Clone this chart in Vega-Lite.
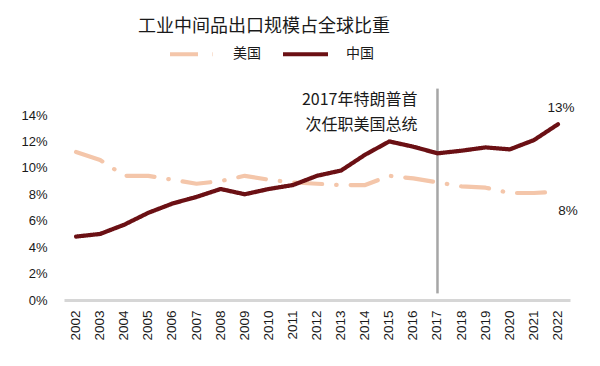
{
  "$schema": "https://vega.github.io/schema/vega-lite/v6.json",
  "width": 506,
  "height": 211.4,
  "autosize": {"type": "none"},
  "padding": {"left": 64, "top": 88.6, "right": 30, "bottom": 66},
  "background": "white",
  "title": {
    "text": "工业中间品出口规模占全球比重",
    "anchor": "start",
    "frame": "group",
    "dx": 74,
    "fontSize": 18,
    "fontWeight": "normal",
    "font": "Noto Sans CJK SC",
    "color": "#1a1a1a",
    "offset": -6
  },
  "config": {
    "view": {"stroke": null},
    "font": "Liberation Sans, Noto Sans CJK SC"
  },
  "data": {
    "values": [
      {"year": "2002", "series": "美国", "value": 11.2},
      {"year": "2003", "series": "美国", "value": 10.6},
      {"year": "2004", "series": "美国", "value": 9.4},
      {"year": "2005", "series": "美国", "value": 9.4},
      {"year": "2006", "series": "美国", "value": 9.1},
      {"year": "2007", "series": "美国", "value": 8.8},
      {"year": "2008", "series": "美国", "value": 9.0},
      {"year": "2009", "series": "美国", "value": 9.4},
      {"year": "2010", "series": "美国", "value": 9.1},
      {"year": "2011", "series": "美国", "value": 8.9},
      {"year": "2012", "series": "美国", "value": 8.8},
      {"year": "2013", "series": "美国", "value": 8.7},
      {"year": "2014", "series": "美国", "value": 8.7},
      {"year": "2015", "series": "美国", "value": 9.4},
      {"year": "2016", "series": "美国", "value": 9.2},
      {"year": "2017", "series": "美国", "value": 8.9},
      {"year": "2018", "series": "美国", "value": 8.6},
      {"year": "2019", "series": "美国", "value": 8.5},
      {"year": "2020", "series": "美国", "value": 8.1},
      {"year": "2021", "series": "美国", "value": 8.1},
      {"year": "2022", "series": "美国", "value": 8.2},
      {"year": "2002", "series": "中国", "value": 4.8},
      {"year": "2003", "series": "中国", "value": 5.0},
      {"year": "2004", "series": "中国", "value": 5.7},
      {"year": "2005", "series": "中国", "value": 6.6},
      {"year": "2006", "series": "中国", "value": 7.3},
      {"year": "2007", "series": "中国", "value": 7.8},
      {"year": "2008", "series": "中国", "value": 8.4},
      {"year": "2009", "series": "中国", "value": 8.0},
      {"year": "2010", "series": "中国", "value": 8.4},
      {"year": "2011", "series": "中国", "value": 8.7},
      {"year": "2012", "series": "中国", "value": 9.4},
      {"year": "2013", "series": "中国", "value": 9.8},
      {"year": "2014", "series": "中国", "value": 11.0},
      {"year": "2015", "series": "中国", "value": 12.0},
      {"year": "2016", "series": "中国", "value": 11.6},
      {"year": "2017", "series": "中国", "value": 11.1},
      {"year": "2018", "series": "中国", "value": 11.3},
      {"year": "2019", "series": "中国", "value": 11.55},
      {"year": "2020", "series": "中国", "value": 11.4},
      {"year": "2021", "series": "中国", "value": 12.1},
      {"year": "2022", "series": "中国", "value": 13.3}
    ]
  },
  "encoding": {
    "x": {
      "field": "year",
      "type": "ordinal",
      "axis": {
        "title": null,
        "labelAngle": -90,
        "labelFontSize": 13.5,
        "labelColor": "#1a1a1a",
        "labelPadding": 10,
        "ticks": false,
        "domainColor": "#d6d6d6",
        "domainWidth": 3,
        "grid": false
      }
    },
    "y": {
      "field": "value",
      "type": "quantitative",
      "scale": {"domain": [0, 16], "nice": false},
      "axis": {
        "title": null,
        "values": [0, 2, 4, 6, 8, 10, 12, 14],
        "labelExpr": "datum.value + '%'",
        "labelFontSize": 13,
        "labelColor": "#1a1a1a",
        "labelPadding": 17,
        "ticks": false,
        "domain": false,
        "grid": false
      }
    }
  },
  "layer": [
    {
      "transform": [{"filter": "datum.year == '2017' && datum.series == '中国'"}],
      "mark": {"type": "rule", "color": "#a6a6a6", "strokeWidth": 2.5},
      "encoding": {
        "y": {"datum": 16},
        "y2": {"datum": 0.5}
      }
    },
    {
      "mark": {"type": "line", "strokeWidth": 4.2, "strokeCap": "round", "strokeJoin": "round"},
      "encoding": {
        "color": {
          "field": "series",
          "type": "nominal",
          "scale": {"domain": ["美国", "中国"], "range": ["#f4c6aa", "#6b1014"]},
          "legend": {
            "title": null,
            "orient": "none",
            "direction": "horizontal",
            "legendX": 104,
            "legendY": -59,
            "labelFontSize": 14,
            "labelColor": "#1a1a1a",
            "labelFont": "Noto Sans CJK SC",
            "symbolType": "stroke",
            "symbolSize": 2025,
            "symbolStrokeWidth": 4,
            "columnPadding": 14,
            "labelOffset": 16
          }
        },
        "strokeDash": {
          "field": "series",
          "type": "nominal",
          "scale": {"domain": ["美国", "中国"], "range": [[28, 14, 0.5, 14], [1, 0]]},
          "legend": {
            "title": null,
            "orient": "none",
            "direction": "horizontal",
            "legendX": 104,
            "legendY": -59,
            "labelFontSize": 14,
            "labelColor": "#1a1a1a",
            "labelFont": "Noto Sans CJK SC",
            "symbolType": "stroke",
            "symbolSize": 2025,
            "symbolStrokeWidth": 4,
            "columnPadding": 14,
            "labelOffset": 16
          }
        }
      }
    },
    {
      "transform": [{"filter": "datum.year == '2017' && datum.series == '中国'"}],
      "mark": {"type": "text", "align": "right", "baseline": "middle", "dx": -20, "fontSize": 16, "font": "Noto Sans CJK SC", "color": "#1a1a1a"},
      "encoding": {
        "y": {"datum": 15.15},
        "text": {"value": "2017年特朗普首"}
      }
    },
    {
      "transform": [{"filter": "datum.year == '2017' && datum.series == '中国'"}],
      "mark": {"type": "text", "align": "right", "baseline": "middle", "dx": -20, "fontSize": 16, "font": "Noto Sans CJK SC", "color": "#1a1a1a"},
      "encoding": {
        "y": {"datum": 13.26},
        "text": {"value": "次任职美国总统"}
      }
    },
    {
      "transform": [{"filter": "datum.year == '2022' && datum.series == '中国'"}],
      "mark": {"type": "text", "align": "center", "baseline": "bottom", "dx": 3, "dy": -9, "fontSize": 13.5, "color": "#1a1a1a"},
      "encoding": {
        "text": {"value": "13%"}
      }
    },
    {
      "transform": [{"filter": "datum.year == '2022' && datum.series == '美国'"}],
      "mark": {"type": "text", "align": "center", "baseline": "top", "dx": 10, "dy": 12, "fontSize": 13.5, "color": "#1a1a1a"},
      "encoding": {
        "text": {"value": "8%"}
      }
    }
  ]
}
